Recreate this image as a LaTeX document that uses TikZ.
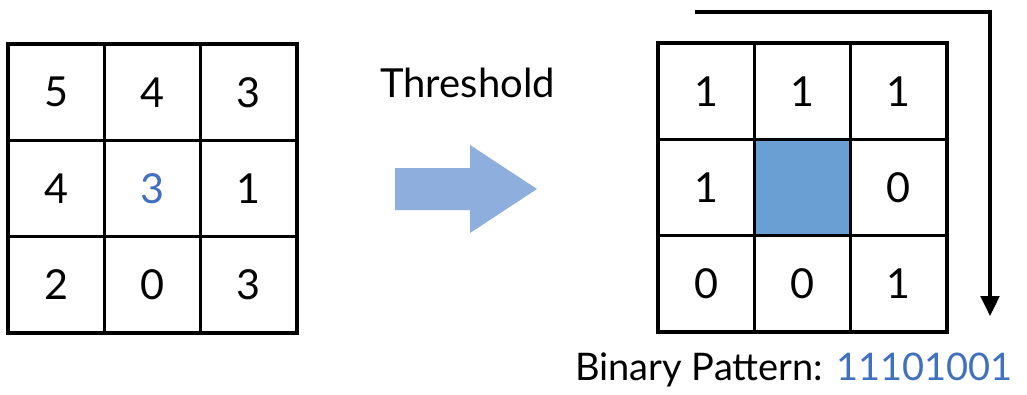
\documentclass[tikz,border=0pt]{standalone}
\usepackage{fontspec}
\setmainfont{Lato}
\usetikzlibrary{arrows.meta}
\definecolor{numblue}{HTML}{4070C0}
\definecolor{cellblue}{HTML}{6A9FD3}
\definecolor{arrowblue}{HTML}{8EAFDE}
\tikzset{
  cell/.style={draw=black, line width=2.4pt, minimum size=72.2pt, inner sep=0pt, anchor=center,
    font=\fontsize{31}{31}\selectfont},
  lbl/.style={inner sep=0pt, anchor=base west},
}
\begin{document}
\begin{tikzpicture}[x=0.75pt,y=-0.75pt]
\useasboundingbox (0,0) rectangle (1027,394);
% left grid
\node[cell] (a11) at (56.2,92.2) {5};
\node[cell] (a12) at (152.5,92.2) {4};
\node[cell] (a13) at (248.8,92.2) {3};
\node[cell] (a21) at (56.2,188.5) {4};
\node[cell,text=numblue] (a22) at (152.5,188.5) {3};
\node[cell] (a23) at (248.8,188.5) {1};
\node[cell] (a31) at (56.2,284.8) {2};
\node[cell] (a32) at (152.5,284.8) {0};
\node[cell] (a33) at (248.8,284.8) {3};
% right grid
\node[cell] (b11) at (706.2,91.2) {1};
\node[cell] (b12) at (802.5,91.2) {1};
\node[cell] (b13) at (898.8,91.2) {1};
\node[cell] (b21) at (706.2,187.5) {1};
\node[cell,fill=cellblue] (b22) at (802.5,187.5) {};
\node[cell] (b23) at (898.8,187.5) {0};
\node[cell] (b31) at (706.2,283.8) {0};
\node[cell] (b32) at (802.5,283.8) {0};
\node[cell] (b33) at (898.8,283.8) {1};
% threshold label and arrow
\node[lbl, font=\fontsize{30}{30}\selectfont] (thr) at (380,97) {Threshold};
\fill[arrowblue] (395,168) -- (470,168) -- (470,145) -- (537,189) -- (470,233) -- (470,210) -- (395,210) -- cycle;
% reading order arrow
\coordinate (s) at (695,12);
\coordinate (c) at (990,12);
\coordinate (e) at (990,316);
\draw[line width=2.6pt, -{Stealth[length=15pt,width=14pt,inset=0pt]}] (s) -- (c) -- (e);
% binary pattern
\node[lbl, font=\fontsize{28.5}{28.5}\selectfont] (bp) at (575,380) {Binary Pattern: \textcolor{numblue}{11101001}};
\end{tikzpicture}
\end{document}
